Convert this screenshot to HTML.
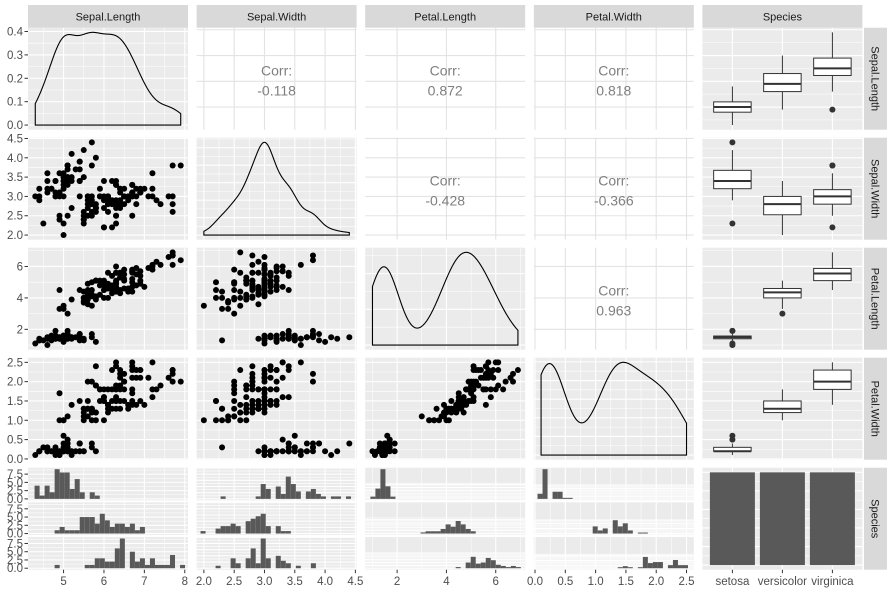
<!DOCTYPE html>
<html><head><meta charset="utf-8">
<style>
html,body{margin:0;padding:0;background:#fff;}
svg{display:block;font-family:"Liberation Sans",sans-serif;}
</style></head>
<body>
<svg id="s" width="889" height="590" viewBox="0 0 889 590" xmlns="http://www.w3.org/2000/svg"></svg>
<script>
const D=`5.1,3.5,1.4,0.2;4.9,3.0,1.4,0.2;4.7,3.2,1.3,0.2;4.6,3.1,1.5,0.2;5.0,3.6,1.4,0.2;5.4,3.9,1.7,0.4;4.6,3.4,1.4,0.3;5.0,3.4,1.5,0.2;4.4,2.9,1.4,0.2;4.9,3.1,1.5,0.1;5.4,3.7,1.5,0.2;4.8,3.4,1.6,0.2;4.8,3.0,1.4,0.1;4.3,3.0,1.1,0.1;5.8,4.0,1.2,0.2;5.7,4.4,1.5,0.4;5.4,3.9,1.3,0.4;5.1,3.5,1.4,0.3;5.7,3.8,1.7,0.3;5.1,3.8,1.5,0.3;5.4,3.4,1.7,0.2;5.1,3.7,1.5,0.4;4.6,3.6,1.0,0.2;5.1,3.3,1.7,0.5;4.8,3.4,1.9,0.2;5.0,3.0,1.6,0.2;5.0,3.4,1.6,0.4;5.2,3.5,1.5,0.2;5.2,3.4,1.4,0.2;4.7,3.2,1.6,0.2;4.8,3.1,1.6,0.2;5.4,3.4,1.5,0.4;5.2,4.1,1.5,0.1;5.5,4.2,1.4,0.2;4.9,3.1,1.5,0.2;5.0,3.2,1.2,0.2;5.5,3.5,1.3,0.2;4.9,3.6,1.4,0.1;4.4,3.0,1.3,0.2;5.1,3.4,1.5,0.2;5.0,3.5,1.3,0.3;4.5,2.3,1.3,0.3;4.4,3.2,1.3,0.2;5.0,3.5,1.6,0.6;5.1,3.8,1.9,0.4;4.8,3.0,1.4,0.3;5.1,3.8,1.6,0.2;4.6,3.2,1.4,0.2;5.3,3.7,1.5,0.2;5.0,3.3,1.4,0.2;7.0,3.2,4.7,1.4;6.4,3.2,4.5,1.5;6.9,3.1,4.9,1.5;5.5,2.3,4.0,1.3;6.5,2.8,4.6,1.5;5.7,2.8,4.5,1.3;6.3,3.3,4.7,1.6;4.9,2.4,3.3,1.0;6.6,2.9,4.6,1.3;5.2,2.7,3.9,1.4;5.0,2.0,3.5,1.0;5.9,3.0,4.2,1.5;6.0,2.2,4.0,1.0;6.1,2.9,4.7,1.4;5.6,2.9,3.6,1.3;6.7,3.1,4.4,1.4;5.6,3.0,4.5,1.5;5.8,2.7,4.1,1.0;6.2,2.2,4.5,1.5;5.6,2.5,3.9,1.1;5.9,3.2,4.8,1.8;6.1,2.8,4.0,1.3;6.3,2.5,4.9,1.5;6.1,2.8,4.7,1.2;6.4,2.9,4.3,1.3;6.6,3.0,4.4,1.4;6.8,2.8,4.8,1.4;6.7,3.0,5.0,1.7;6.0,2.9,4.5,1.5;5.7,2.6,3.5,1.0;5.5,2.4,3.8,1.1;5.5,2.4,3.7,1.0;5.8,2.7,3.9,1.2;6.0,2.7,5.1,1.6;5.4,3.0,4.5,1.5;6.0,3.4,4.5,1.6;6.7,3.1,4.7,1.5;6.3,2.3,4.4,1.3;5.6,3.0,4.1,1.3;5.5,2.5,4.0,1.3;5.5,2.6,4.4,1.2;6.1,3.0,4.6,1.4;5.8,2.6,4.0,1.2;5.0,2.3,3.3,1.0;5.6,2.7,4.2,1.3;5.7,3.0,4.2,1.2;5.7,2.9,4.2,1.3;6.2,2.9,4.3,1.3;5.1,2.5,3.0,1.1;5.7,2.8,4.1,1.3;6.3,3.3,6.0,2.5;5.8,2.7,5.1,1.9;7.1,3.0,5.9,2.1;6.3,2.9,5.6,1.8;6.5,3.0,5.8,2.2;7.6,3.0,6.6,2.1;4.9,2.5,4.5,1.7;7.3,2.9,6.3,1.8;6.7,2.5,5.8,1.8;7.2,3.6,6.1,2.5;6.5,3.2,5.1,2.0;6.4,2.7,5.3,1.9;6.8,3.0,5.5,2.1;5.7,2.5,5.0,2.0;5.8,2.8,5.1,2.4;6.4,3.2,5.3,2.3;6.5,3.0,5.5,1.8;7.7,3.8,6.7,2.2;7.7,2.6,6.9,2.3;6.0,2.2,5.0,1.5;6.9,3.2,5.7,2.3;5.6,2.8,4.9,2.0;7.7,2.8,6.7,2.0;6.3,2.7,4.9,1.8;6.7,3.3,5.7,2.1;7.2,3.2,6.0,1.8;6.2,2.8,4.8,1.8;6.1,3.0,4.9,1.8;6.4,2.8,5.6,2.1;7.2,3.0,5.8,1.6;7.4,2.8,6.1,1.9;7.9,3.8,6.4,2.0;6.4,2.8,5.6,2.2;6.3,2.8,5.1,1.5;6.1,2.6,5.6,1.4;7.7,3.0,6.1,2.3;6.3,3.4,5.6,2.4;6.4,3.1,5.5,1.8;6.0,3.0,4.8,1.8;6.9,3.1,5.4,2.1;6.7,3.1,5.6,2.4;6.9,3.1,5.1,2.3;5.8,2.7,5.1,1.9;6.8,3.2,5.9,2.3;6.7,3.3,5.7,2.5;6.7,3.0,5.2,2.3;6.3,2.5,5.0,1.9;6.5,3.0,5.2,2.0;6.2,3.4,5.4,2.3;5.9,3.0,5.1,1.8`;
const rowsD=D.split(';').map(r=>r.split(',').map(Number));
const V=[0,1,2,3].map(k=>rowsD.map(r=>r[k]));
const CX=[28,196.6,365.2,533.8,702.4], W=160;
const RY=[27.7,137.7,247.7,357.7,467.7], H=102;
const R=[[4.12,8.08],[1.88,4.52],[0.705,7.195],[-0.02,2.62]];
const B=[[5,6,7,8],[2,2.5,3,3.5,4,4.5],[2,4,6],[0,0.5,1,1.5,2,2.5]];
const BL=[['5','6','7','8'],['2.0','2.5','3.0','3.5','4.0','4.5'],['2','4','6'],['0.0','0.5','1.0','1.5','2.0','2.5']];
const NAMES=['Sepal.Length','Sepal.Width','Petal.Length','Petal.Width','Species'];
const SPN=['setosa','versicolor','virginica'];
let o='';
const lin=(a,b,r)=>v=>a+(v-r[0])/(r[1]-r[0])*(b-a);
function minors(br,r){let m=[];const st=br[1]-br[0];for(let k=-1;k<br.length;k++){const v=(k<0?br[0]-st/2:br[k]+st/2);if(v>r[0]&&v<r[1])m.push(v);}return m;}
function grid(x,y,w,h,xr,yr,xb,yb,grey,xminor=true,yminor=true){
  const fx=lin(x,x+w,xr), fy=lin(y+h,y,yr);
  o+=`<rect x="${x}" y="${y}" width="${w}" height="${h}" fill="${grey?'#EBEBEB':'#fff'}"/>`;
  const c=grey?'#fff':'#E3E3E3';
  if(grey){
    if(xminor)minors(xb,xr).forEach(v=>{o+=`<line x1="${fx(v)}" x2="${fx(v)}" y1="${y}" y2="${y+h}" stroke="${c}" stroke-width="0.55"/>`});
    if(yminor)minors(yb,yr).forEach(v=>{o+=`<line y1="${fy(v)}" y2="${fy(v)}" x1="${x}" x2="${x+w}" stroke="${c}" stroke-width="0.55"/>`});
  }
  xb.forEach(v=>{if(v>=xr[0]&&v<=xr[1])o+=`<line x1="${fx(v)}" x2="${fx(v)}" y1="${y}" y2="${y+h}" stroke="${c}" stroke-width="1.1"/>`});
  yb.forEach(v=>{if(v>=yr[0]&&v<=yr[1])o+=`<line y1="${fy(v)}" y2="${fy(v)}" x1="${x}" x2="${x+w}" stroke="${c}" stroke-width="1.1"/>`});
  return [fx,fy];
}
function q7(a,p){const s=[...a].sort((x,y)=>x-y);const h=(s.length-1)*p;const l=Math.floor(h);return s[l]+(h-l)*((s[l+1]??s[l])-s[l]);}
function sd(a){const m=a.reduce((x,y)=>x+y)/a.length;return Math.sqrt(a.reduce((s,v)=>s+(v-m)**2,0)/(a.length-1));}
function dens(a){const n=a.length;const bw=0.9*Math.min(sd(a),(q7(a,.75)-q7(a,.25))/1.34)*Math.pow(n,-0.2);
  const mn=Math.min(...a),mx=Math.max(...a);let pts=[];
  for(let k=0;k<512;k++){const x=mn+(mx-mn)*k/511;let s=0;for(const v of a)s+=Math.exp(-0.5*((x-v)/bw)**2);pts.push([x,s/(n*bw*Math.sqrt(2*Math.PI))]);}
  return pts;}
function txt(x,y,t,anchor,extra=''){o+=`<text x="${x}" y="${y}" text-anchor="${anchor}" ${extra}>${t}</text>`;}
const CORR={'0,1':'-0.118','0,2':'0.872','0,3':'0.818','1,2':'-0.428','1,3':'-0.366','2,3':'0.963'};
let rowYScale=null;
for(let i=0;i<4;i++)for(let j=0;j<4;j++){
  const x=CX[j],y=RY[i];
  if(i==j){
    const d=dens(V[j]);const m=Math.max(...d.map(p=>p[1]));const yr=[-0.05*m,1.05*m];
    const [fx,fy]=grid(x,y,W,H,R[j],yr,B[j],i==0?[0,0.1,0.2,0.3,0.4]:(i==1?[0,0.2,0.4,0.6,0.8,1,1.2]:[0,0.1,0.2,0.3,0.4,0.5,0.6]),true);
    if(i==0)rowYScale=fy;
    let p=`M${fx(d[0][0])},${fy(0)}`;d.forEach(q=>p+=`L${fx(q[0]).toFixed(2)},${fy(q[1]).toFixed(2)}`);p+=`L${fx(d[511][0])},${fy(0)}Z`;
    o+=`<path d="${p}" fill="none" stroke="#000" stroke-width="1.1"/>`;
  } else if(i<j){
    grid(x,y,W,H,R[j],R[i],B[j],B[i],false);
    const cy=y+H/2;
    o+=`<text x="${x+W/2}" y="${cy-3}" text-anchor="middle" font-size="14" fill="#7F7F7F">Corr:</text>`;
    o+=`<text x="${x+W/2}" y="${cy+17}" text-anchor="middle" font-size="14" fill="#7F7F7F">${CORR[i+','+j]}</text>`;
  } else {
    const [fx,fy]=grid(x,y,W,H,R[j],R[i],B[j],B[i],true);
    for(let k=0;k<150;k++)o+=`<circle cx="${fx(V[j][k]).toFixed(2)}" cy="${fy(V[i][k]).toFixed(2)}" r="3" fill="#000"/>`;
  }
}
for(let i=0;i<4;i++){
  const x=CX[4],y=RY[i];const xr=[0.4,3.6];
  const [fx,fy]=grid(x,y,W,H,xr,R[i],[1,2,3],B[i],true,false,true);
  for(let s=0;s<3;s++){
    const a=V[i].slice(s*50,s*50+50);const q1=q7(a,.25),q2=q7(a,.5),q3=q7(a,.75),iq=q3-q1;
    const lo=Math.min(...a.filter(v=>v>=q1-1.5*iq)),hi=Math.max(...a.filter(v=>v<=q3+1.5*iq));
    const cx=fx(s+1),x0=fx(s+1-0.375),x1=fx(s+1+0.375);
    o+=`<line x1="${cx}" x2="${cx}" y1="${fy(hi)}" y2="${fy(q3)}" stroke="#333" stroke-width="1"/>`;
    o+=`<line x1="${cx}" x2="${cx}" y1="${fy(lo)}" y2="${fy(q1)}" stroke="#333" stroke-width="1"/>`;
    o+=`<rect x="${x0}" y="${fy(q3)}" width="${x1-x0}" height="${fy(q1)-fy(q3)}" fill="#fff" stroke="#333" stroke-width="1"/>`;
    o+=`<line x1="${x0}" x2="${x1}" y1="${fy(q2)}" y2="${fy(q2)}" stroke="#333" stroke-width="2"/>`;
    a.filter(v=>v<lo||v>hi).forEach(v=>{o+=`<circle cx="${cx}" cy="${fy(v)}" r="3" fill="#333"/>`});
  }
}
const SH=(H-4)/3;
for(let j=0;j<4;j++){
  const a=V[j],mn=Math.min(...a),mx=Math.max(...a),w=(mx-mn)/29,bd=w/2;
  const org=bd+Math.floor((mn-bd)/w)*w;
  const nb=Math.ceil((mx-org)/w)+1;
  const counts=[0,1,2].map(s=>{const c=new Array(nb).fill(0);for(let k=s*50;k<s*50+50;k++){let b=Math.ceil((a[k]-org)/w-1e-7)-1;if(b<0)b=0;c[b]++;}return c;});
  const m=Math.max(...counts.flat());const yr=[-0.05*m,1.05*m];
  for(let s=0;s<3;s++){
    const y=RY[4]+s*(SH+2);
    const [fx,fy]=grid(CX[j],y,W,SH,R[j],yr,B[j],[0,2.5,5,7.5,10,12.5].filter(v=>v<=yr[1]),true);
    counts[s].forEach((c,b)=>{if(c>0){const x0=fx(org+b*w),x1=fx(org+(b+1)*w);o+=`<rect x="${x0}" y="${fy(c)}" width="${x1-x0}" height="${fy(0)-fy(c)}" fill="#595959"/>`;}});
    if(j==0){[['0.0',0],['2.5',2.5],['5.0',5],['7.5',7.5]].forEach(([t,v])=>{if(v<=yr[1]){o+=`<line x1="24.5" x2="28" y1="${fy(v)}" y2="${fy(v)}" stroke="#333" stroke-width="1"/>`;txt(23,fy(v)+4,t,'end','font-size="11.5" fill="#4D4D4D"');}});}
  }
}
{
  const x=CX[4],y=RY[4];const xr=[0.4,3.6],yr=[-2.5,52.5];
  const [fx,fy]=grid(x,y,W,H,xr,yr,[1,2,3],[0,10,20,30,40,50],true,false,true);
  for(let s=0;s<3;s++){const x0=fx(s+1-0.45),x1=fx(s+1+0.45);o+=`<rect x="${x0}" y="${fy(50)}" width="${x1-x0}" height="${fy(0)-fy(50)}" fill="#595959"/>`;}
}
for(let j=0;j<5;j++){o+=`<rect x="${CX[j]}" y="5" width="${W}" height="22.7" fill="#D9D9D9"/>`;txt(CX[j]+W/2,20.5,NAMES[j],'middle','font-size="11" fill="#1A1A1A"');}
for(let i=0;i<5;i++){const x=864,y=RY[i];o+=`<rect x="${x}" y="${y}" width="23" height="${H}" fill="#D9D9D9"/>`;o+=`<text transform="translate(${x+7.5},${y+H/2}) rotate(90)" text-anchor="middle" font-size="11" fill="#1A1A1A">${NAMES[i]}</text>`;}
const YB=[[0,0.1,0.2,0.3,0.4],B[1],B[2],B[3]];
const YL=[['0.0','0.1','0.2','0.3','0.4'],BL[1],BL[2],BL[3]];
for(let i=0;i<4;i++){
  const fy=i==0?rowYScale:lin(RY[i]+H,RY[i],R[i]);
  YB[i].forEach((v,k)=>{o+=`<line x1="24.5" x2="28" y1="${fy(v)}" y2="${fy(v)}" stroke="#333" stroke-width="1"/>`;txt(23,fy(v)+4,YL[i][k],'end','font-size="11.5" fill="#4D4D4D"');});
}
const yb=RY[4]+H;
for(let j=0;j<4;j++){const fx=lin(CX[j],CX[j]+W,R[j]);B[j].forEach((v,k)=>{o+=`<line x1="${fx(v)}" x2="${fx(v)}" y1="${yb}" y2="${yb+3.5}" stroke="#333" stroke-width="1"/>`;txt(fx(v),yb+15.5,BL[j][k],'middle','font-size="11.5" fill="#4D4D4D"');});}
{const fx=lin(CX[4],CX[4]+W,[0.4,3.6]);SPN.forEach((t,k)=>{o+=`<line x1="${fx(k+1)}" x2="${fx(k+1)}" y1="${yb}" y2="${yb+3.5}" stroke="#333" stroke-width="1"/>`;txt(fx(k+1),yb+15.5,t,'middle','font-size="11.5" fill="#4D4D4D"');});}
document.getElementById('s').innerHTML=o;
</script>
</body></html>
